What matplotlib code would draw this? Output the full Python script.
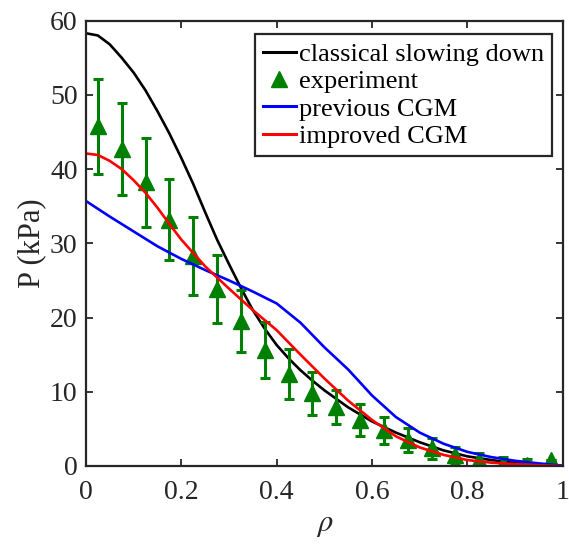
import matplotlib
matplotlib.use('Agg')
import matplotlib.pyplot as plt
from matplotlib.ticker import FuncFormatter

plt.rcParams['font.family'] = ['Liberation Serif', 'DejaVu Serif']
plt.rcParams['mathtext.fontset'] = 'stix'

# classical slowing down
rho_black = [0, 0.025, 0.05, 0.075, 0.1, 0.125, 0.15, 0.175, 0.2, 0.225, 0.25, 0.275, 0.3,
             0.325, 0.35, 0.375, 0.4, 0.425, 0.45, 0.475, 0.5, 0.55, 0.6, 0.65, 0.7, 0.75,
             0.8, 0.85, 0.9, 0.95, 1.0]
p_black = [58.3, 58.0, 56.8, 55.0, 53.0, 50.6, 47.8, 44.8, 41.5, 38.0, 34.2, 30.5, 27.2,
           24.0, 21.0, 18.5, 16.3, 14.5, 12.9, 11.5, 10.2, 7.9, 6.0, 4.5, 3.2, 2.1,
           1.3, 0.8, 0.4, 0.15, 0.0]

# previous CGM
rho_blue = [0, 0.05, 0.1, 0.15, 0.2, 0.25, 0.3, 0.35, 0.4, 0.45, 0.5, 0.55, 0.6, 0.65,
            0.7, 0.75, 0.8, 0.85, 0.9, 0.95, 1.0]
p_blue = [35.7, 33.6, 31.6, 29.6, 27.9, 26.4, 25.0, 23.5, 21.9, 19.3, 16.0, 13.0, 9.5, 6.6,
          4.5, 3.0, 1.9, 1.2, 0.7, 0.35, 0.05]

# improved CGM
rho_red = [0, 0.025, 0.05, 0.075, 0.1, 0.125, 0.15, 0.175, 0.2, 0.25, 0.3, 0.35, 0.4, 0.45,
           0.5, 0.55, 0.6, 0.65, 0.7, 0.75, 0.8, 0.85, 0.9, 0.95, 1.0]
p_red = [42.1, 41.9, 41.1, 40.0, 38.5, 36.8, 34.8, 32.6, 30.5, 26.9, 23.9, 21.0, 18.3, 15.0,
         11.8, 8.8, 6.2, 4.0, 2.5, 1.5, 0.8, 0.45, 0.25, 0.1, 0.0]

# experiment
rho_exp = [0.025, 0.075, 0.125, 0.175, 0.225, 0.275, 0.325, 0.375, 0.425, 0.475,
           0.525, 0.575, 0.625, 0.675, 0.725, 0.775, 0.825, 0.875, 0.925, 0.975]
p_exp = [45.8, 42.7, 38.2, 33.2, 28.3, 23.8, 19.5, 15.6, 12.4, 9.8,
         8.0, 6.2, 4.8, 3.5, 2.4, 1.5, 0.8, 0.3, 0.2, 0.85]
err_exp = [6.4, 6.2, 6.0, 5.5, 5.2, 4.6, 4.2, 3.8, 3.4, 2.9,
           2.3, 2.1, 1.8, 1.6, 1.4, 1.1, 1.0, 0.9, 0.7, 0.0]

fig = plt.figure(figsize=(5.69, 5.44), dpi=100)
ax = fig.add_axes([0.151, 0.1434, 0.838, 0.8187])

ax.plot(rho_black, p_black, color='black', lw=1.9, label='classical slowing down')
ax.errorbar(rho_exp, p_exp, yerr=err_exp, fmt='none', ecolor='#008000',
            elinewidth=2.2, capsize=3.8, capthick=2.2)
ax.plot(rho_exp, p_exp, '^', color='#008000', markersize=11, label='experiment')
ax.plot(rho_blue, p_blue, color='#0000ff', lw=1.9, label='previous CGM')
ax.plot(rho_red, p_red, color='#ff0000', lw=1.9, label='improved CGM')

ax.set_xlim(0, 1)
ax.set_ylim(0, 60)
ax.set_xticks([0, 0.2, 0.4, 0.6, 0.8, 1])
ax.set_yticks([0, 10, 20, 30, 40, 50, 60])
fmt = FuncFormatter(lambda v, pos: '%g' % v)
ax.xaxis.set_major_formatter(fmt)
ax.yaxis.set_major_formatter(fmt)
ax.tick_params(direction='in', length=5, width=1.3, top=True, right=True,
               labelsize=20, colors='#262626')
ax.tick_params(axis='x', pad=10)
ax.tick_params(axis='y', pad=6)
for s in ax.spines.values():
    s.set_linewidth(1.6)
    s.set_color('#262626')

ax.set_xlabel(r'$\rho$', fontsize=22, color='#262626', labelpad=4)
ax.set_ylabel('P (kPa)', fontsize=22, color='#262626', labelpad=3)

leg = ax.legend(loc='upper right', bbox_to_anchor=(0.977, 0.969), borderaxespad=0,
                fontsize=19, fancybox=False, edgecolor='#262626', framealpha=1,
                handlelength=1.25, handletextpad=0.12, labelspacing=0.15,
                borderpad=0.3)
leg.get_frame().set_linewidth(1.6)
for h in leg.legend_handles:
    h.set_linewidth(2.2)

fig.savefig('out.png', dpi=100)
